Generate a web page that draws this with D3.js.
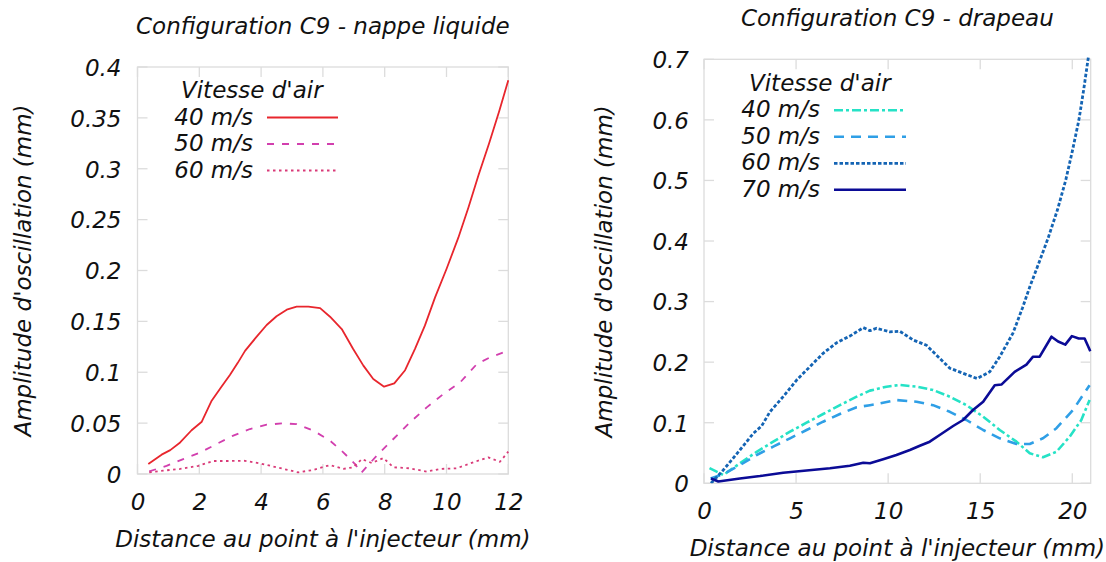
<!DOCTYPE html>
<html>
<head>
<meta charset="utf-8">
<script src="https://cdn.jsdelivr.net/npm/d3@7"></script>
<style>
  html, body { margin: 0; padding: 0; background: #ffffff; }
  svg { display: block; }
  text { font-family: "DejaVu Sans", sans-serif; font-style: italic; fill: #111; }
</style>
</head>
<body>
<svg id="chart" width="1106" height="562"></svg>
<script>
// ---------- DATA ----------
// Left panel: Configuration C9 - nappe liquide
const leftTitle = "Configuration C9 - nappe liquide";
const rightTitle = "Configuration C9 - drapeau";
const xLabel = "Distance au point à l'injecteur (mm)";
const yLabel = "Amplitude d'oscillation (mm)";
const legendTitle = "Vitesse d'air";

const leftSeriesNames = ["40 m/s", "50 m/s", "60 m/s"];
const leftXTicks = [0, 2, 4, 6, 8, 10, 12];
const leftYTicks = [0, 0.05, 0.1, 0.15, 0.2, 0.25, 0.3, 0.35, 0.4];
const leftYTickLabels = ["0", "0.05", "0.1", "0.15", "0.2", "0.25", "0.3", "0.35", "0.4"];

const left40x = [0.35, 0.78, 1.06, 1.38, 1.75, 2.08, 2.40, 2.70, 2.99, 3.24, 3.48, 3.83, 4.18, 4.50, 4.83, 5.15, 5.53, 5.91, 6.23, 6.61, 6.98, 7.31, 7.63, 7.98, 8.31, 8.66, 8.98, 9.30, 9.63, 10.00, 10.38, 10.71, 11.04, 11.38, 11.71, 12.00];
const left40y = [0.0098, 0.019, 0.0235, 0.031, 0.043, 0.0514, 0.072, 0.085, 0.0973, 0.109, 0.121, 0.134, 0.1464, 0.155, 0.1615, 0.1645, 0.1645, 0.163, 0.1546, 0.1425, 0.1228, 0.1065, 0.0934, 0.0858, 0.0891, 0.102, 0.123, 0.1458, 0.1736, 0.2015, 0.232, 0.262, 0.294, 0.325, 0.357, 0.387];

const left50x = [0.38, 0.94, 1.48, 2.02, 2.56, 3.10, 3.64, 4.18, 4.72, 5.15, 5.69, 6.23, 6.66, 7.04, 7.24, 7.74, 8.28, 8.82, 9.36, 9.90, 10.44, 10.98, 11.41, 12.0];
const left50y = [0.0026, 0.008, 0.0147, 0.021, 0.0295, 0.0377, 0.0442, 0.0485, 0.0498, 0.049, 0.0426, 0.0328, 0.0213, 0.0098, 0.001, 0.018, 0.0344, 0.0508, 0.0655, 0.0786, 0.090, 0.108, 0.1147, 0.1212];

const left60x = [0.38, 0.83, 1.38, 1.97, 2.45, 2.99, 3.48, 3.96, 4.50, 5.20, 5.69, 6.23, 6.66, 6.98, 7.26, 7.58, 7.96, 8.28, 8.82, 9.36, 9.79, 10.33, 10.87, 11.35, 11.73, 12.0];
const left60y = [0.0016, 0.0033, 0.005, 0.008, 0.0128, 0.0128, 0.013, 0.0105, 0.0066, 0.0016, 0.004, 0.0088, 0.005, 0.0066, 0.0147, 0.0108, 0.0157, 0.0066, 0.0056, 0.0023, 0.005, 0.0056, 0.0115, 0.0164, 0.012, 0.022];

// Right panel: Configuration C9 - drapeau
const rightSeriesNames = ["40 m/s", "50 m/s", "60 m/s", "70 m/s"];
const rightXTicks = [0, 5, 10, 15, 20];
const rightYTicks = [0, 0.1, 0.2, 0.3, 0.4, 0.5, 0.6, 0.7];
const rightYTickLabels = ["0", "0.1", "0.2", "0.3", "0.4", "0.5", "0.6", "0.7"];

const right40x = [0.30, 1.05, 1.95, 2.86, 3.76, 4.67, 5.57, 6.47, 7.38, 8.29, 9.01, 9.91, 10.63, 11.54, 12.44, 13.35, 14.25, 15.16, 16.06, 16.97, 17.69, 18.41, 19.14, 19.86, 20.49, 20.94];
const right40y = [0.025, 0.0137, 0.033, 0.052, 0.0687, 0.0852, 0.100, 0.1144, 0.129, 0.143, 0.153, 0.1595, 0.1623, 0.1595, 0.154, 0.143, 0.129, 0.110, 0.088, 0.0687, 0.0495, 0.043, 0.052, 0.077, 0.1045, 0.1375];

const right50x = [0.36, 1.05, 1.95, 2.86, 3.76, 4.67, 5.57, 6.47, 7.38, 8.29, 9.01, 9.40, 10.45, 11.54, 12.44, 13.35, 14.25, 15.16, 16.06, 16.97, 17.69, 18.41, 19.14, 20.04, 20.94];
const right50y = [0.008, 0.015, 0.030, 0.0467, 0.0605, 0.0743, 0.088, 0.1017, 0.1144, 0.1255, 0.129, 0.131, 0.1375, 0.1347, 0.129, 0.118, 0.1045, 0.088, 0.0743, 0.065, 0.065, 0.0743, 0.091, 0.121, 0.162];

const right60x = [0.38, 1.05, 1.95, 2.68, 3.13, 3.58, 4.30, 5.03, 5.75, 6.47, 7.20, 7.92, 8.65, 9.01, 9.37, 10.09, 10.63, 11.36, 12.08, 12.71, 13.35, 14.07, 14.83, 15.52, 16.06, 16.78, 17.30, 17.70, 18.20, 18.69, 19.20, 19.64, 20.00, 20.36, 20.62, 20.88];
const right60y = [0.0, 0.022, 0.055, 0.0825, 0.0946, 0.118, 0.143, 0.1705, 0.1925, 0.2146, 0.232, 0.243, 0.257, 0.252, 0.256, 0.250, 0.251, 0.2366, 0.228, 0.209, 0.190, 0.1816, 0.173, 0.184, 0.209, 0.248, 0.290, 0.325, 0.365, 0.405, 0.452, 0.500, 0.548, 0.600, 0.650, 0.705];

const right70x = [0.38, 0.78, 1.95, 3.04, 4.30, 5.57, 6.84, 7.92, 8.65, 9.01, 9.73, 10.45, 11.18, 11.72, 12.26, 12.80, 13.53, 14.07, 14.61, 15.16, 15.79, 16.15, 16.87, 17.51, 17.87, 18.23, 18.87, 19.23, 19.62, 19.98, 20.35, 20.67, 20.98];
const right70y = [0.008, 0.003, 0.008, 0.012, 0.0175, 0.021, 0.0248, 0.029, 0.034, 0.033, 0.0396, 0.0467, 0.055, 0.062, 0.0687, 0.0797, 0.0946, 0.1045, 0.121, 0.1347, 0.162, 0.163, 0.184, 0.196, 0.209, 0.209, 0.242, 0.234, 0.229, 0.243, 0.239, 0.239, 0.218];

// ---------- DRAWING ----------
const svg = d3.select("#chart");
const FONT = 23;
const frameColor = "#dcdcdc";

function zip(xs, ys) { return xs.map((x, i) => [x, ys[i]]); }

function panel(cfg) {
  const g = svg.append("g");
  const x = d3.scaleLinear().domain(cfg.xDomain).range([cfg.left, cfg.right]);
  const y = d3.scaleLinear().domain(cfg.yDomain).range([cfg.bottom, cfg.top]);

  // frame
  g.append("rect")
    .attr("x", cfg.left).attr("y", cfg.top)
    .attr("width", cfg.right - cfg.left).attr("height", cfg.bottom - cfg.top)
    .attr("fill", "none").attr("stroke", frameColor).attr("stroke-width", 1.3);

  const tl = 10;
  // inward tick marks on all four sides
  const xt = g.append("g");
  cfg.xTicks.forEach(t => {
    xt.append("line").attr("x1", x(t)).attr("x2", x(t)).attr("y1", cfg.bottom).attr("y2", cfg.bottom - tl)
      .attr("stroke", frameColor).attr("stroke-width", 1.3);
    xt.append("line").attr("x1", x(t)).attr("x2", x(t)).attr("y1", cfg.top).attr("y2", cfg.top + tl)
      .attr("stroke", frameColor).attr("stroke-width", 1.3);
  });
  cfg.yTicks.forEach(t => {
    xt.append("line").attr("x1", cfg.left).attr("x2", cfg.left + tl).attr("y1", y(t)).attr("y2", y(t))
      .attr("stroke", frameColor).attr("stroke-width", 1.3);
    xt.append("line").attr("x1", cfg.right).attr("x2", cfg.right - tl).attr("y1", y(t)).attr("y2", y(t))
      .attr("stroke", frameColor).attr("stroke-width", 1.3);
  });

  // axes labels via d3 axes (ticks hidden, only text)
  const xAxis = d3.axisBottom(x).tickValues(cfg.xTicks).tickSize(0).tickFormat(d3.format("d"));
  const xa = g.append("g").attr("transform", `translate(0,${cfg.bottom})`).call(xAxis);
  xa.select(".domain").remove();
  xa.selectAll("text").attr("font-size", FONT).attr("font-family", "DejaVu Sans").attr("font-style", "italic")
    .attr("fill", "#111").attr("y", 36).attr("dy", 0);

  const yAxis = d3.axisLeft(y).tickValues(cfg.yTicks).tickSize(0)
    .tickFormat((d, i) => cfg.yTickLabels[i]);
  const ya = g.append("g").attr("transform", `translate(${cfg.left},0)`).call(yAxis);
  ya.select(".domain").remove();
  ya.selectAll("text").attr("font-size", FONT).attr("font-family", "DejaVu Sans").attr("font-style", "italic")
    .attr("fill", "#111").attr("x", -cfg.yTickGap).attr("dy", "0.36em");

  // title
  const cx = (cfg.left + cfg.right) / 2;
  g.append("text").attr("x", cx).attr("y", cfg.top - 33).attr("text-anchor", "middle")
    .attr("font-size", FONT).text(cfg.title);
  // x label
  g.append("text").attr("x", cx).attr("y", cfg.bottom + 73).attr("text-anchor", "middle")
    .attr("font-size", FONT).text(xLabel);
  // y label
  const cy = (cfg.top + cfg.bottom) / 2;
  g.append("text").attr("transform", `translate(${cfg.yLabelX},${cy}) rotate(-90)`)
    .attr("text-anchor", "middle").attr("font-size", FONT).text(yLabel);

  // clip
  const clipId = "clip" + cfg.id;
  svg.append("clipPath").attr("id", clipId).append("rect")
    .attr("x", cfg.left).attr("y", cfg.top - 2)
    .attr("width", cfg.right - cfg.left + 1).attr("height", cfg.bottom - cfg.top + 2);

  const line = d3.line().x(d => x(d[0])).y(d => y(d[1]));
  const lg = g.append("g").attr("clip-path", `url(#${clipId})`);
  cfg.series.forEach(s => {
    lg.append("path").datum(s.data).attr("d", line)
      .attr("fill", "none").attr("stroke", s.color).attr("stroke-width", s.width)
      .attr("stroke-dasharray", s.dash || null).attr("stroke-linejoin", "round");
  });

  // legend
  const L = cfg.legend;
  g.append("text").attr("x", L.titleX).attr("y", L.titleY).attr("font-size", FONT).text(legendTitle);
  cfg.series.forEach((s, i) => {
    const by = L.firstY + i * L.step;
    g.append("text").attr("x", L.textRight).attr("y", by).attr("text-anchor", "end")
      .attr("font-size", FONT).text(s.name);
    g.append("line").attr("x1", L.lineX1).attr("x2", L.lineX2).attr("y1", by - 7).attr("y2", by - 7)
      .attr("stroke", s.color).attr("stroke-width", s.width).attr("stroke-dasharray", s.dash || null);
  });
}

panel({
  id: "L",
  left: 137.5, right: 508.3, top: 67, bottom: 474,
  xDomain: [0, 12], yDomain: [0, 0.4],
  xTicks: leftXTicks, yTicks: leftYTicks, yTickLabels: leftYTickLabels,
  yTickGap: 16, yLabelX: 31,
  title: leftTitle,
  series: [
    { name: leftSeriesNames[0], data: zip(left40x, left40y), color: "#e8262d", width: 1.8 },
    { name: leftSeriesNames[1], data: zip(left50x, left50y), color: "#d23fae", width: 1.8, dash: "7,8" },
    { name: leftSeriesNames[2], data: zip(left60x, left60y), color: "#d93a78", width: 1.8, dash: "2.5,3.5" }
  ],
  legend: { titleX: 181, titleY: 98, firstY: 124.5, step: 26.5, textRight: 253, lineX1: 267, lineX2: 338 }
});

panel({
  id: "R",
  left: 704, right: 1090.7, top: 59.3, bottom: 483.3,
  xDomain: [0, 21], yDomain: [0, 0.7],
  xTicks: rightXTicks, yTicks: rightYTicks, yTickLabels: rightYTickLabels,
  yTickGap: 15, yLabelX: 612,
  title: rightTitle,
  series: [
    { name: rightSeriesNames[0], data: zip(right40x, right40y), color: "#25e2c6", width: 2.6, dash: "9,3,3,3" },
    { name: rightSeriesNames[1], data: zip(right50x, right50y), color: "#2f9fe6", width: 2.6, dash: "10,7" },
    { name: rightSeriesNames[2], data: zip(right60x, right60y), color: "#1464b4", width: 2.8, dash: "3.5,2" },
    { name: rightSeriesNames[3], data: zip(right70x, right70y), color: "#0b0b96", width: 2.6 }
  ],
  legend: { titleX: 749, titleY: 90.7, firstY: 117.3, step: 26.5, textRight: 820, lineX1: 834, lineX2: 906 }
});
</script>
</body>
</html>
